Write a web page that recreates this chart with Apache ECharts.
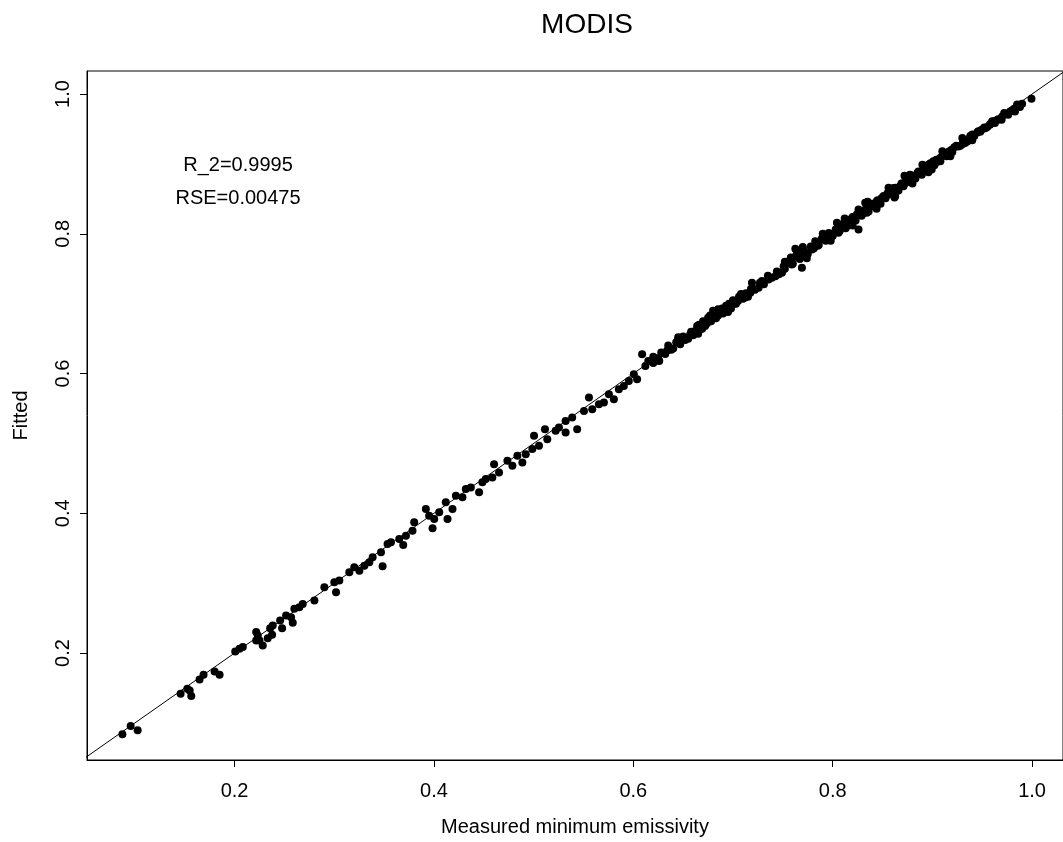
<!DOCTYPE html>
<html>
<head>
<meta charset="utf-8">
<script src="https://cdn.jsdelivr.net/npm/echarts@6/dist/echarts.min.js"></script>
<style>
html,body{margin:0;padding:0;background:#fff;}
#chart{width:1063px;height:842px;}
</style>
</head>
<body>
<div id="chart"></div>
<script>
const titleText = "MODIS";
const xName = "Measured minimum emissivity";
const yName = "Fitted";
const notes = ["R_2=0.9995", "RSE=0.00475"];
const xTicks = [0.2, 0.4, 0.6, 0.8, 1.0];
const yTicks = [0.2, 0.4, 0.6, 0.8, 1.0];
const xRange = [0.052, 1.031];
const yRange = [0.047, 1.033];
const refLine = [0.0, 1.1];

const measured = [
0.0875,0.0958,0.1028,0.1459,0.1526,0.1566,0.1550,0.1649,0.1689,0.1800,
0.1850,0.2007,0.2050,0.2083,0.2217,0.2233,0.2250,0.2283,0.2217,0.2333,
0.2377,0.2383,0.2357,0.2477,0.2457,0.2517,0.2567,0.2584,0.2600,0.2650,
0.2684,0.2801,0.2901,0.3001,0.3018,0.3051,0.3151,0.3201,0.3252,0.3302,
0.3352,0.3385,0.3485,0.3469,0.3535,0.3569,0.3652,0.3692,0.3719,0.3802,
0.3785,0.3919,0.3952,0.3986,0.4003,0.4053,0.4119,0.4136,0.4186,0.4220,
0.4286,0.4320,0.4370,0.4453,0.4486,0.4520,0.4586,0.4603,0.4653,0.4737,
0.4787,0.4837,0.4887,0.4921,0.5004,0.4987,0.5054,0.5114,0.5137,0.5221,
0.5254,0.5321,0.5321,0.5387,0.5437,0.5505,0.5555,0.5588,0.5655,0.5705,
0.5755,0.5805,0.5855,0.5905,0.5955,0.6038,0.6005,0.6088,0.6121,
0.615,0.620,0.625,0.628,0.632,0.635,0.640,0.643,0.647,0.650,
0.655,0.658,0.660,0.664,0.667,0.670,0.672,0.675,0.678,0.680,
0.683,0.687,0.690,0.693,0.696,0.698,0.700,0.703,0.706,0.710,
0.713,0.715,
0.7174,0.7190,0.7257,0.7290,0.7357,0.7425,0.7491,0.7508,0.7574,0.7658,
0.7691,0.7625,0.7725,0.7791,0.7825,0.7925,0.7975,0.8058,0.8042,0.8109,
0.8175,0.8259,0.8242,0.8259,0.8342,0.8326,0.8392,0.8442,0.8492,0.8559,
0.8626,0.8609,0.8676,0.8726,0.8793,0.8776,0.8826,0.8893,0.8993,0.8926,
0.8960,0.9010,0.9077,0.9127,0.9193,0.9260,0.9327,0.9377,0.9460,0.9494,
0.9577,0.9627,0.9694,0.9760,0.9828,0.9878,0.9994,
0.8050,0.8150,0.8200,0.8300,0.8400,0.8470,0.8550,0.8650,0.8700,0.8750,
0.8850,0.8900,0.8950,0.9050,0.9100,0.9150,0.9220,0.9300,0.9400,0.9530,
0.9600,0.9650,0.9720,0.9800,0.9850,0.7550,0.7600,0.7700,0.7850,0.7900,
0.620,0.626,0.634,0.638,0.645,0.652,0.657,0.662,0.666,0.669,
0.674,0.677,0.682,0.685,0.689,0.692,0.697,0.701,0.705,0.708,
0.712,0.718,0.722,0.727,0.731,0.735,0.739,0.744,0.746,0.752,
0.755,0.759,0.763,0.767,0.771,0.775,0.778,0.781,0.786,0.789,
0.793,0.796,0.800,0.803,0.807,0.811,0.813,0.818,0.821,0.823,
0.827,0.829,0.833,0.836,0.838,0.842,0.845,0.848,0.851,0.853,
0.857,0.860,0.863,0.866,0.869,0.871,0.874,0.877,0.880,0.883,
0.886,0.888,0.892,0.894,0.898,0.902,0.904,0.908,0.911,0.914,
0.917,0.920,0.924,0.928,0.931,0.935,0.938,0.942,0.945,0.948,
0.952,0.955,0.958,0.962,0.966,0.970,0.974,0.978,0.982,0.986,
0.990,
0.752,0.758,0.764,0.770,0.774,0.790,0.798,0.812,0.820,0.835,
0.844,0.856,0.862,0.872,0.880,0.890,0.896,0.910,0.918,0.930,
0.940,0.685,0.695,0.665,0.645
];
const fitted = [
0.0837,0.0957,0.0894,0.1419,0.1490,0.1386,0.1466,0.1623,0.1690,0.1737,
0.1690,0.2023,0.2061,0.2086,0.2300,0.2251,0.2180,0.2109,0.2180,0.2214,
0.2261,0.2394,0.2357,0.2357,0.2466,0.2537,0.2514,0.2433,0.2633,0.2657,
0.2704,0.2751,0.2943,0.3014,0.2871,0.3037,0.3157,0.3229,0.3180,0.3251,
0.3300,0.3371,0.3243,0.3443,0.3561,0.3586,0.3633,0.3547,0.3680,0.3871,
0.3751,0.4061,0.3966,0.3786,0.3919,0.4014,0.4157,0.3919,0.4061,0.4251,
0.4229,0.4347,0.4371,0.4300,0.4443,0.4490,0.4514,0.4704,0.4586,0.4751,
0.4680,0.4823,0.4729,0.4847,0.5109,0.4919,0.4966,0.5204,0.5061,0.5180,
0.5229,0.5157,0.5323,0.5371,0.5204,0.5466,0.5657,0.5490,0.5561,0.5586,
0.5704,0.5633,0.5776,0.5823,0.5894,0.5919,0.5990,0.6276,0.6109,
0.618,0.615,0.622,0.630,0.628,0.640,0.636,0.645,0.642,0.653,
0.650,0.660,0.655,0.668,0.663,0.675,0.668,0.680,0.675,0.690,
0.679,0.690,0.686,0.697,0.700,0.693,0.705,0.700,0.710,0.707,
0.715,0.710,
0.7157,0.7300,0.7229,0.7323,0.7347,0.7394,0.7443,0.7537,0.7586,0.7657,
0.7514,0.7786,0.7729,0.7776,0.7894,0.7919,0.7990,0.8014,0.8157,0.8109,
0.8204,0.8061,0.8276,0.8347,0.8300,0.8443,0.8394,0.8466,0.8514,0.8561,
0.8537,0.8657,0.8680,0.8729,0.8751,0.8847,0.8823,0.8847,0.8919,0.8919,
0.8990,0.9037,0.9086,0.9157,0.9204,0.9251,0.9300,0.9371,0.9466,0.9490,
0.9561,0.9586,0.9633,0.9704,0.9751,0.9814,0.9933,
0.8090,0.8120,0.8240,0.8290,0.8430,0.8440,0.8580,0.8620,0.8720,0.8790,
0.8870,0.8880,0.8970,0.9030,0.9120,0.9140,0.9240,0.9280,0.9420,0.9510,
0.9610,0.9630,0.9730,0.9770,0.9850,0.7600,0.7570,0.7720,0.7830,0.7930,
0.624,0.618,0.633,0.634,0.648,0.648,0.656,0.661,0.670,0.664,
0.672,0.683,0.684,0.683,0.693,0.690,0.697,0.700,0.704,0.714,
0.709,0.721,0.720,0.730,0.728,0.740,0.737,0.746,0.742,0.750,
0.760,0.756,0.768,0.764,0.776,0.771,0.782,0.779,0.784,0.793,
0.790,0.801,0.797,0.806,0.804,0.815,0.808,0.817,0.824,0.819,
0.830,0.826,0.835,0.832,0.843,0.840,0.848,0.843,0.854,0.851,
0.860,0.857,0.866,0.862,0.872,0.868,0.878,0.874,0.883,0.879,
0.889,0.886,0.895,0.890,0.901,0.898,0.906,0.904,0.913,0.911,
0.918,0.917,0.926,0.926,0.933,0.932,0.940,0.940,0.945,0.946,
0.952,0.953,0.957,0.961,0.964,0.968,0.972,0.975,0.979,0.983,
0.986,
0.760,0.766,0.775,0.781,0.765,0.800,0.790,0.822,0.812,0.846,
0.836,0.866,0.852,0.883,0.872,0.899,0.888,0.918,0.911,0.937,
0.934,0.692,0.688,0.657,0.652
];

const points = measured.map((m, i) => [m, fitted[i]]);
const fontFam = '"Liberation Sans", Arial, Helvetica, sans-serif';

const chart = echarts.init(document.getElementById('chart'), null, {renderer: 'canvas'});
chart.setOption({
  backgroundColor: '#ffffff',
  animation: false,
  title: {
    text: titleText,
    left: 582,
    textAlign: 'center',
    top: 6,
    textStyle: {fontFamily: fontFam, fontSize: 28, fontWeight: 'normal', color: '#000'}
  },
  grid: {
    left: 87, top: 71, width: 978, height: 691,
    show: true, borderColor: '#000', borderWidth: 1, backgroundColor: 'transparent'
  },
  xAxis: {
    type: 'value', min: xRange[0], max: xRange[1],
    name: xName, nameLocation: 'middle', nameGap: 57,
    nameTextStyle: {fontFamily: fontFam, fontSize: 20, color: '#000'},
    axisLine: {show: true, onZero: false, lineStyle: {color: '#000', width: 1}},
    axisTick: {show: true, length: 7, lineStyle: {color: '#000'}, customValues: xTicks},
    axisLabel: {margin: 21, fontFamily: fontFam, fontSize: 20, color: '#000',
      customValues: xTicks, formatter: v => v.toFixed(1)},
    splitLine: {show: false}
  },
  yAxis: {
    type: 'value', min: yRange[0], max: yRange[1],
    name: yName, nameLocation: 'middle', nameGap: 56, nameRotate: 90,
    nameTextStyle: {fontFamily: fontFam, fontSize: 20, color: '#000'},
    axisLine: {show: true, onZero: false, lineStyle: {color: '#000', width: 1}},
    axisTick: {show: true, length: 7, lineStyle: {color: '#000'}, customValues: yTicks},
    axisLabel: {margin: 14, rotate: 90, fontFamily: fontFam, fontSize: 20, color: '#000',
      customValues: yTicks, formatter: v => v.toFixed(1)},
    splitLine: {show: false}
  },
  graphic: [
    {type: 'text', x: 238, y: 155, style: {text: notes[0], font: '20px ' + fontFam, fill: '#000', align: 'center', textAlign: 'center', verticalAlign: 'top'}},
    {type: 'text', x: 238, y: 188, style: {text: notes[1], font: '20px ' + fontFam, fill: '#000', align: 'center', textAlign: 'center', verticalAlign: 'top'}}
  ],
  series: [
    {
      type: 'line', data: [[refLine[0], refLine[0]], [refLine[1], refLine[1]]],
      symbol: 'none', clip: true, silent: true,
      lineStyle: {color: '#000', width: 1}
    },
    {
      type: 'scatter', data: points, symbol: 'circle', symbolSize: 8,
      itemStyle: {color: '#000', opacity: 1}
    }
  ]
});
</script>
</body>
</html>
